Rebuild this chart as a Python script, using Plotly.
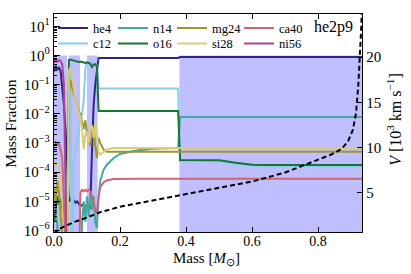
import plotly.graph_objects as go

# ---------------- data ----------------
mass = [0.000, 0.005, 0.010, 0.015, 0.020, 0.025, 0.030, 0.035, 0.040, 0.045,
        0.050, 0.055, 0.060, 0.065, 0.070, 0.075, 0.080, 0.085, 0.090, 0.095,
        0.100, 0.105, 0.110, 0.115, 0.120, 0.125, 0.130, 0.135, 0.140,
        0.15, 0.16, 0.18, 0.20, 0.25, 0.30, 0.35, 0.376, 0.382, 0.40, 0.45,
        0.50, 0.55, 0.60, 0.65, 0.70, 0.80, 0.90, 0.933]

he4 = [0.28, 0.45, 0.32, 0.38, 0.3, 0.08, 0.02, 3e-3, 1e-4, 1e-5,
       1.2e-5, 1e-5, 1.1e-5, 9e-6, 1e-5, 8e-6, 7e-6, 7.5e-6, 8e-6, 6.5e-6,
       7e-6, 6e-6, 6e-6, 5e-4, 0.02, 0.1, 0.3, 0.82, 0.82,
       0.82, 0.82, 0.82, 0.82, 0.82, 0.82, 0.82, 0.82, 0.89, 0.89, 0.89,
       0.89, 0.89, 0.89, 0.89, 0.89, 0.89, 0.89, 0.89]

c12 = [1e-8, 1e-8, 1e-8, 1e-8, 1e-8, 1e-8, 1e-8, 1e-8, 1e-8, 0.5,
       0.3, 1e-8, 3e-4, 6e-4, 1.5e-3, 3e-3, 6e-3, 1e-2, 0.03, 0.35,
       0.55, 0.6, 0.6, 0.55, 0.5, 0.5, 0.45, 0.074, 0.074,
       0.074, 0.074, 0.074, 0.074, 0.074, 0.074, 0.074, 0.074, 2.4e-4, 2.4e-4, 2.4e-4,
       2.35e-4, 1.95e-4, 1.68e-4, 1.63e-4, 1.63e-4, 1.63e-4, 1.63e-4, 1.63e-4]

n14 = [2e-6, 4e-6, 1.5e-6, 3e-7, 1e-8, 1e-8, 1e-8, 1e-8, 1e-8, 1e-8,
       1e-8, 1e-8, 1e-8, 1e-8, 1e-8, 1e-8, 1e-8, 2e-6, 1e-5, 2e-6,
       1.5e-5, 3e-6, 2e-5, 5e-6, 1.5e-5, 2e-6, 1.2e-6, 1.5e-5, 5e-5,
       1.2e-4, 1.8e-4, 3e-4, 4.2e-4, 5.5e-4, 6.3e-4, 6.6e-4, 6.7e-4, 7.8e-3, 7.8e-3, 7.8e-3,
       7.8e-3, 7.8e-3, 7.8e-3, 7.8e-3, 7.8e-3, 7.8e-3, 7.8e-3, 7.8e-3]

o16 = [2e-6, 5e-6, 1.5e-5, 8e-6, 1.2e-5, 6e-6, 2e-6, 5e-7, 1e-6, 0.7,
       0.72, 0.68, 0.65, 0.64, 0.62, 0.6, 0.62, 0.6, 0.58, 0.55,
       0.58, 0.55, 0.52, 0.4, 0.48, 0.5, 0.42, 0.0126, 0.0126,
       0.0126, 0.0126, 0.0126, 0.0126, 0.0126, 0.0126, 0.0126, 0.0126, 2.6e-4, 2.6e-4, 2.6e-4,
       2.55e-4, 2.1e-4, 1.8e-4, 1.75e-4, 1.75e-4, 1.75e-4, 1.75e-4, 1.75e-4]

mg24 = [3e-5, 1e-5, 5e-5, 2e-5, 3e-6, 1e-6, 2e-7, 1e-8, 1e-8, 0.05,
        0.15, 0.08, 0.05, 0.03, 0.02, 0.012, 0.01, 6e-3, 3e-3, 6e-3,
        2e-3, 1.5e-3, 8e-4, 2e-3, 3e-3, 8e-4, 3e-4, 1.5e-3, 1e-3,
        6e-4, 5e-4, 5e-4, 5e-4, 5e-4, 5e-4, 5e-4, 5e-4, 5e-4, 5e-4, 5e-4,
        5e-4, 5e-4, 5e-4, 5e-4, 5e-4, 5e-4, 5e-4, 5e-4]

si28 = [2e-4, 1.8e-4, 2.2e-4, 1.2e-4, 3e-5, 1e-5, 1e-6, 1e-8, 1e-8, 0.3,
        0.4, 0.2, 0.08, 0.03, 0.015, 0.01, 8e-3, 3e-3, 6e-4, 2e-3,
        2.5e-3, 1e-3, 3e-3, 4e-3, 1.5e-3, 5e-3, 2e-3, 5e-4, 4e-4,
        5e-4, 6e-4, 6.8e-4, 6.8e-4, 6.8e-4, 6.8e-4, 6.8e-4, 6.8e-4, 6.8e-4, 6.8e-4, 6.8e-4,
        6.8e-4, 6.8e-4, 6.8e-4, 6.8e-4, 6.8e-4, 6.8e-4, 6.8e-4, 6.8e-4]

ca40 = [1e-3, 1.1e-3, 8e-4, 1e-3, 6e-4, 3e-4, 1e-5, 1e-8, 1e-8, 1e-8,
        1e-8, 1e-8, 1e-8, 1e-8, 1e-8, 1e-8, 2e-5, 2.5e-5, 2.2e-5, 2.5e-5,
        2.2e-5, 2.5e-5, 2.2e-5, 1.5e-5, 1e-5, 5e-6, 4e-6, 1.5e-5, 3e-5,
        4.5e-5, 5.2e-5, 5.8e-5, 5.9e-5, 5.9e-5, 5.9e-5, 5.9e-5, 5.9e-5, 5.9e-5, 5.9e-5, 5.9e-5,
        5.9e-5, 5.9e-5, 5.9e-5, 5.9e-5, 5.9e-5, 5.9e-5, 5.9e-5, 5.9e-5]

ni56 = [0.55, 0.7, 0.6, 0.7, 0.65, 0.5, 0.1, 1e-4, 1e-8, 1e-8,
        1e-8, 1e-8, 1e-8, 1e-8, 1e-8, 1e-8, 1e-8, 1e-8, 1e-8, 1e-8,
        1e-8, 1e-8, 1e-8, 1e-8, 1e-8, 1e-8, 1e-8, 1e-8, 1e-8,
        1e-8, 1e-8, 1e-8, 1e-8, 1e-8, 1e-8, 1e-8, 1e-8, 1e-8, 1e-8, 1e-8,
        1e-8, 1e-8, 1e-8, 1e-8, 1e-8, 1e-8, 1e-8, 1e-8]

mass_v = [0.0, 0.01, 0.03, 0.06, 0.10, 0.14, 0.20, 0.30, 0.40, 0.50, 0.60,
          0.70, 0.78, 0.84, 0.87, 0.89, 0.905, 0.915, 0.922, 0.927, 0.931, 0.934]
velocity = [0.4, 0.8, 1.2, 1.7, 2.2, 2.8, 3.4, 4.1, 4.85, 5.5, 6.2,
            7.2, 8.3, 9.2, 9.8, 10.6, 11.9, 13.8, 17.0, 20.0, 23.5, 27.0]

# shaded mass intervals (start, end)
shade_start = [0.0, 0.045, 0.100, 0.380]
shade_end = [0.039, 0.079, 0.132, 0.933]

species = ["he4", "c12", "n14", "o16", "mg24", "si28", "ca40", "ni56"]
abund = [he4, c12, n14, o16, mg24, si28, ca40, ni56]
colors = ["#332288", "#88CCEE", "#44AA99", "#117733",
          "#999933", "#DDCC77", "#CC6677", "#AA4499"]

y_tickvals = [1e-6, 1e-5, 1e-4, 1e-3, 1e-2, 1e-1, 1e0, 1e1]
y_ticktext = ["10<sup>\u22126</sup>", "10<sup>\u22125</sup>", "10<sup>\u22124</sup>",
              "10<sup>\u22123</sup>", "10<sup>\u22122</sup>", "10<sup>\u22121</sup>",
              "10<sup>0</sup>", "10<sup>1</sup>"]
x_tickvals = [0.0, 0.2, 0.4, 0.6, 0.8]
x_ticktext = ["0.0", "0.2", "0.4", "0.6", "0.8"]
v_tickvals = [5, 10, 15, 20]

# ---------------- layout ----------------
# body margin is removed by a post script, so the figure sits at (0, 0)
W, H = 411, 274
PX0, PX1, PY0, PY1 = 54, 362, 14, 232.3
ML, MT = PX0, PY0
MR, MB = W - PX1, H - PY1
PW, PH = PX1 - PX0, PY1 - PY0
FONT = "Liberation Serif, Times New Roman, serif"


def px(sx):
    return (sx - PX0) / PW


def py(sy):
    return 1 - (sy - PY0) / PH


fig = go.Figure()

for a, b in zip(shade_start, shade_end):
    fig.add_trace(go.Scatter(x=[a, a, b, b, a], y=[1e-9, 1.0, 1.0, 1e-9, 1e-9],
                             mode="lines", fill="toself",
                             fillcolor="rgba(0,0,255,0.25)",
                             line=dict(width=0), hoverinfo="skip",
                             showlegend=False))

leg_col_px = [53, 113, 172, 239]
leg_row_top = [13.4, 28.9]
for i, (name, vals, col) in enumerate(zip(species, abund, colors)):
    c, r = i // 2, i % 2
    lname = "legend" if i == 0 else f"legend{i+1}"
    fig.add_trace(go.Scatter(x=mass, y=vals, mode="lines", name=name,
                             line=dict(color=col, width=2),
                             legend=lname, yaxis="y"))
    fig.update_layout({lname: dict(
        x=px(leg_col_px[c]), y=py(leg_row_top[r]),
        xanchor="left", yanchor="top", bgcolor="rgba(0,0,0,0)",
        borderwidth=0, font=dict(family=FONT, size=12.5, color="black"),
        itemwidth=30)})

fig.add_trace(go.Scatter(x=mass_v, y=velocity, mode="lines",
                         line=dict(color="black", width=2, dash="5px,3px"),
                         yaxis="y2", showlegend=False))

minor_vals = [m * 10.0 ** e for e in range(-7, 2) for m in range(2, 10)]

fig.update_layout(
    width=W, height=H,
    margin=dict(l=ML, r=MR, t=MT, b=MB, autoexpand=False),
    paper_bgcolor="white", plot_bgcolor="white",
    font=dict(family=FONT, size=14.5, color="black"),
    xaxis=dict(range=[0, 0.933], tickvals=x_tickvals, ticktext=x_ticktext,
               ticks="inside", ticklen=5, tickcolor="black", tickwidth=1,
               showline=True, linecolor="black", linewidth=1.3, mirror="ticks",
               showgrid=False, zeroline=False, tickfont=dict(size=14),
               ticklabelstandoff=-4),
    yaxis=dict(type="log", range=[-6.05, 1.42], tickvals=y_tickvals,
               ticktext=y_ticktext, ticks="inside", ticklen=6,
               tickcolor="black", tickwidth=1,
               minor=dict(tickvals=minor_vals, ticks="inside", ticklen=3,
                          tickcolor="black", showgrid=False),
               showline=True, linecolor="black", linewidth=1.3,
               showgrid=False, zeroline=False, tickfont=dict(size=15)),
    yaxis2=dict(overlaying="y", side="right", range=[0.6, 24.8],
                tickvals=v_tickvals, ticks="inside", ticklen=5,
                tickcolor="black", tickwidth=1,
                showline=True, linecolor="black", linewidth=1.3,
                showgrid=False, zeroline=False, tickfont=dict(size=15)),
    annotations=[
        dict(text="he2p9", xref="paper", yref="paper", x=px(333), y=py(27),
             xanchor="center", yanchor="middle", showarrow=False,
             font=dict(family=FONT, size=16, color="black")),
        dict(text="Mass [<i>M</i><sub>\u2299</sub>]", xref="paper", yref="paper",
             x=px(206), y=py(259.5), xanchor="center", yanchor="middle",
             showarrow=False, font=dict(family=FONT, size=15, color="black")),
        dict(text="Mass Fraction", xref="paper", yref="paper",
             x=px(11), y=py(124), xanchor="center", yanchor="middle",
             textangle=-90, showarrow=False,
             font=dict(family=FONT, size=15.5, color="black")),
        dict(text="<i>V</i> [10<sup>3</sup> km s<sup>\u22121</sup>]",
             xref="paper", yref="paper", x=px(394), y=py(120),
             xanchor="center", yanchor="middle", textangle=-90,
             showarrow=False, font=dict(family=FONT, size=16, color="black")),
    ],
)

fig.write_html(
    "out.html",
    config={"displayModeBar": False},
    post_script="document.documentElement.style.margin='0';"
                "document.body.style.margin='0';document.body.style.padding='0';",
)
